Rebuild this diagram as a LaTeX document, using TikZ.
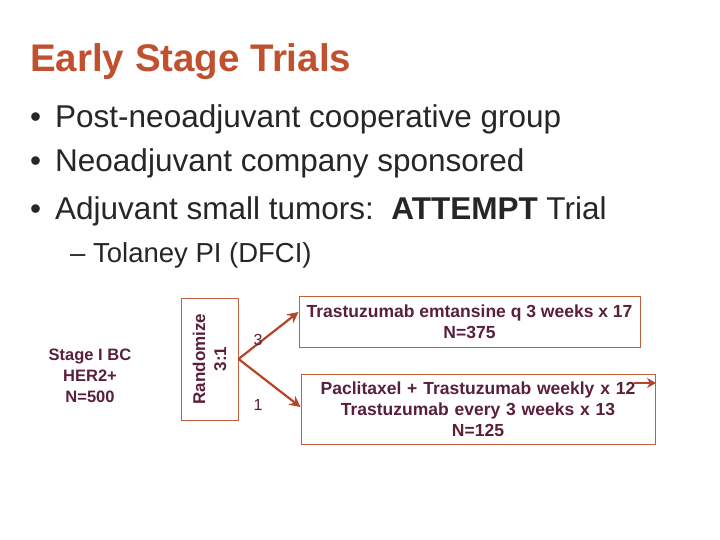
\documentclass[tikz,border=0pt]{standalone}
\usepackage{fontspec}
\setmainfont{Liberation Sans}
\usetikzlibrary{arrows.meta}
\begin{document}
\begin{tikzpicture}[x=1pt,y=-1pt,
  ttl/.style={anchor=base west,inner sep=0,text=titlec,font=\fontsize{38.5}{44}\selectfont\bfseries},
  bul/.style={anchor=base west,inner sep=0,text=black!85,font=\fontsize{31.5}{36}\selectfont},
  sub/.style={anchor=base west,inner sep=0,text=black!85,font=\fontsize{27.5}{32}\selectfont},
  dtxt/.style={text=maroon,font=\fontsize{17.5}{21}\selectfont\bfseries,align=center},
  bx/.style={draw=boxc,line width=1pt},
  arr/.style={draw=arrc,line width=2.2pt,-{Stealth[length=11pt,width=11pt]}}]
\definecolor{titlec}{HTML}{C0502E}
\definecolor{maroon}{HTML}{5A1F3A}
\definecolor{boxc}{HTML}{C0603E}
\definecolor{arrc}{HTML}{B5442A}
\useasboundingbox[fill=white] (0,0) rectangle (720,540);
\node[ttl] (t) at (30,72) {Early Stage Trials};
\node[bul] (b1) at (30,128) {\textbullet\hspace{14pt}Post-neoadjuvant cooperative group};
\node[bul] (b2) at (30,172) {\textbullet\hspace{14pt}Neoadjuvant company sponsored};
\node[bul] (b3) at (30,220) {\textbullet\hspace{14pt}Adjuvant small tumors:\ \ \textbf{ATTEMPT} Trial};
\node[sub] (s1) at (70,262) {-- Tolaney PI (DFCI)};
\node[dtxt,font=\fontsize{16.5}{21}\selectfont\bfseries] (st) at (90,376) {Stage I BC\\HER2+\\N=500};
\node[bx,minimum width=57pt,minimum height=122pt] (r) at (209.5,359) {};
\node[dtxt,rotate=90,font=\fontsize{17}{21}\selectfont\bfseries] (rt) at (r.center) {Randomize\\3:1};
\node[bx,dtxt,minimum width=341pt,minimum height=51pt] (a) at (469.5,321.5) {Trastuzumab emtansine q 3 weeks x 17\\N=375};
\node[bx,dtxt,minimum width=354pt,minimum height=70pt,text width=345pt] (c) at (478,409) {Paclitaxel + Trastuzumab weekly x 12\hspace{22pt}\\Trastuzumab every 3 weeks x 13\\N=125};
\draw[arr] (r.east) -- (a.west |- 0,312);
\draw[arr] (r.east) -- (c.west |- 0,407);
\node[dtxt,font=\fontsize{16}{18}\selectfont] (l3) at (258,340) {3};
\node[dtxt,font=\fontsize{16}{18}\selectfont] (l1) at (258,405) {1};
\coordinate (s0) at (634,383);
\coordinate (s1e) at (656,383);
\draw[arrc,line width=2.5pt,-{Stealth[length=9pt,width=10pt]}] (s0) -- (s1e);
\end{tikzpicture}
\end{document}
